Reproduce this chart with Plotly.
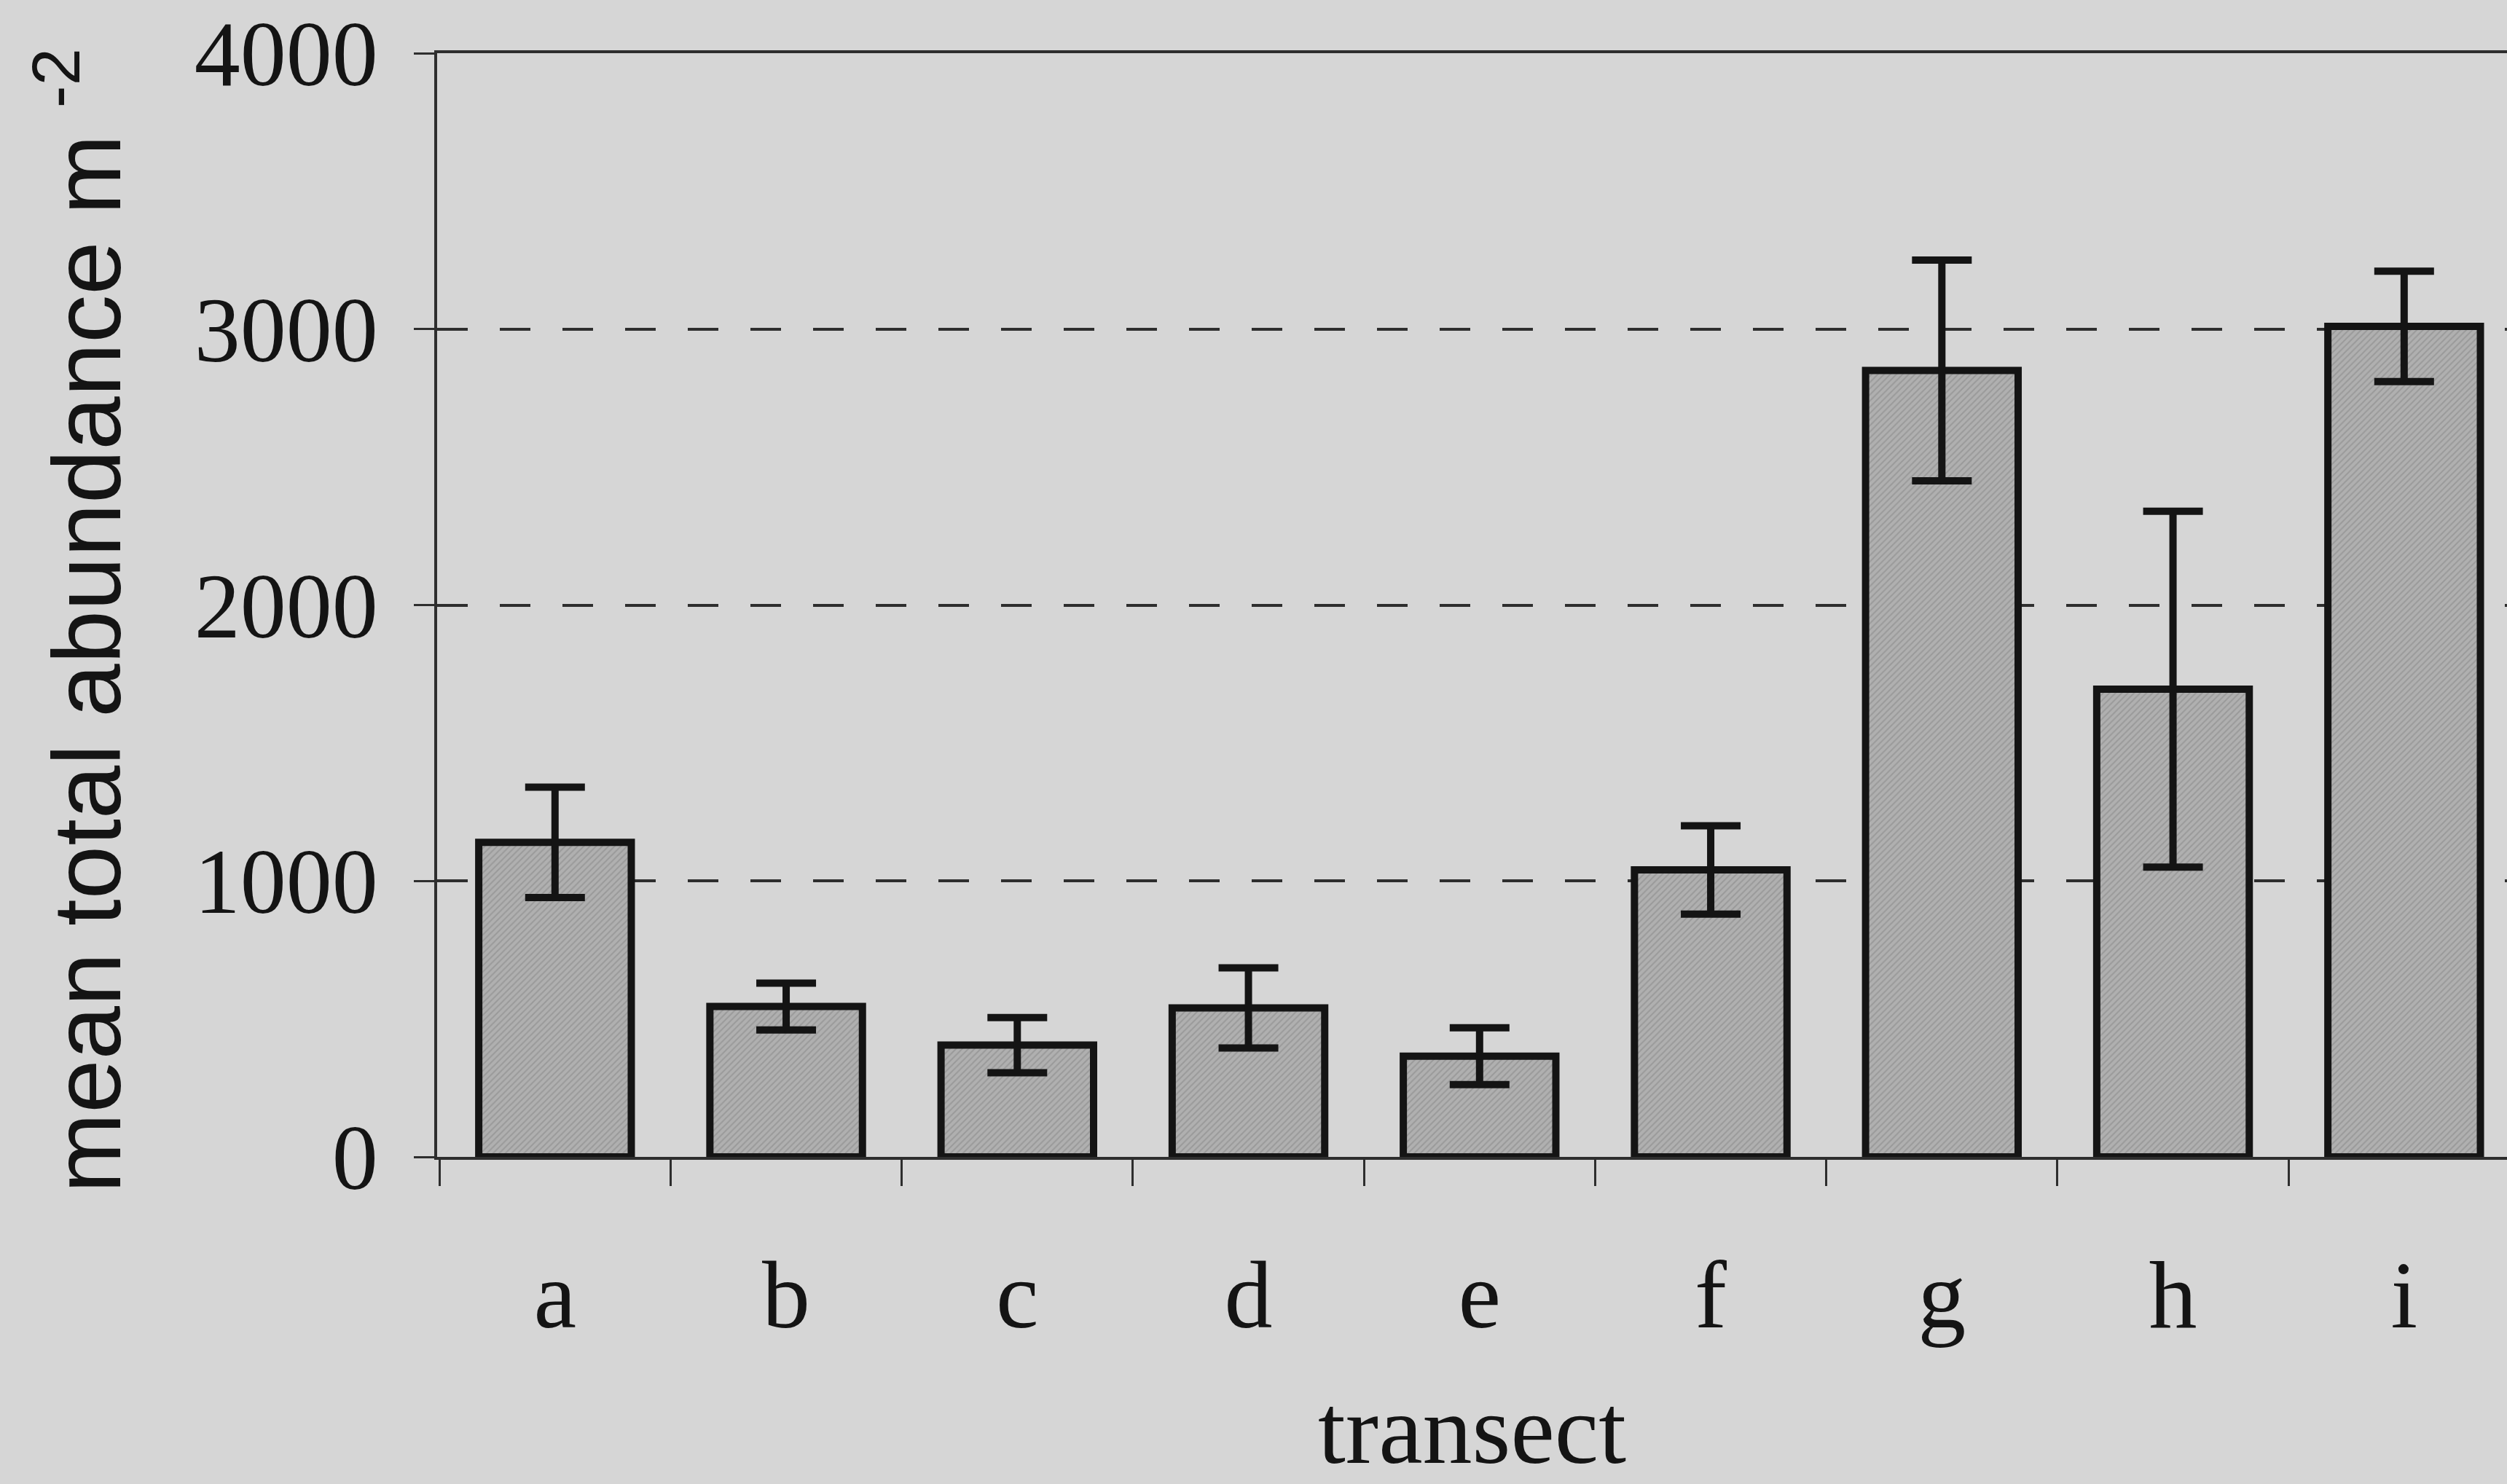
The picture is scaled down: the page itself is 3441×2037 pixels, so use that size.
import plotly.graph_objects as go

categories = ["a", "b", "c", "d", "e", "f", "g", "h", "i"]
mean_abundance = [1140, 545, 405, 540, 365, 1040, 2850, 1695, 3010]
std_error = [200, 85, 100, 145, 103, 160, 400, 645, 200]
y_tick_values = [0, 1000, 2000, 3000, 4000]
y_tick_labels = ["0", "1000", "2000", "3000", "4000"]
x_title = "transect"
y_title = "mean total abundance m <sup>-2</sup>"

BG = "#d6d6d6"
INK = "#141414"
LINE = "#2e2e2e"
SERIF = "Liberation Serif, Times New Roman, serif"
SANS = "Liberation Sans, Arial, sans-serif"

fig = go.Figure(
    go.Bar(
        x=categories,
        y=mean_abundance,
        width=0.66,
        marker=dict(
            color="#a9a9a9",
            pattern=dict(shape="/", fgcolor="#848484", bgcolor="#b0b0b0",
                         size=6, solidity=0.35),
            line=dict(color=INK, width=10),
        ),
        error_y=dict(type="data", array=std_error, visible=True,
                     color=INK, thickness=10, width=41),
    )
)

fig.update_layout(
    width=3441,
    height=2037,
    margin=dict(l=600, r=0, t=73, b=449, autoexpand=False),
    paper_bgcolor=BG,
    plot_bgcolor=BG,
    showlegend=False,
)

fig.update_xaxes(
    type="category",
    range=[-0.51, 8.445],
    showline=True, linecolor=LINE, linewidth=4, mirror=True,
    ticks="outside", ticklen=36, tickwidth=3, tickcolor=LINE,
    tickson="boundaries",
    showgrid=False,
    tickfont=dict(family=SERIF, size=132, color=INK),
    ticklabelstandoff=72,
    title=dict(text=x_title, font=dict(family=SERIF, size=136, color=INK),
               standoff=66),
)

fig.update_yaxes(
    range=[0, 4000],
    tickvals=y_tick_values,
    ticktext=y_tick_labels,
    showline=True, linecolor=LINE, linewidth=4,
    ticks="outside", ticklen=28, tickwidth=3, tickcolor=LINE,
    showgrid=True, gridcolor=LINE, gridwidth=4, griddash="42px,44px",
    zeroline=False,
    tickfont=dict(family=SERIF, size=126, color=INK),
    ticklabelstandoff=24,
)

fig.add_annotation(
    text=y_title,
    xref="paper", yref="paper",
    x=-0.1728, y=0.486,
    xanchor="center", yanchor="middle",
    textangle=-90,
    showarrow=False,
    font=dict(family=SANS, size=132, color=INK),
)

fig.write_html("out.html")
